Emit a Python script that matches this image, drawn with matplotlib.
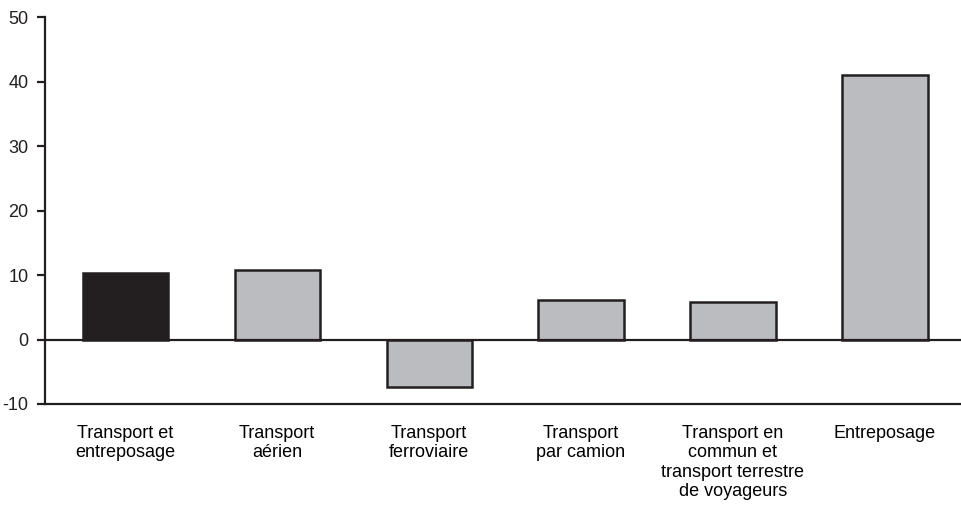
import numpy as np
from matplotlib import pyplot as plt

plt.rcParams["font.family"] = ["Liberation Sans Narrow", "Liberation Sans", "DejaVu Sans"]

categories = ["Transport et\nentreposage", "Transport\naérien", "Transport\nferroviaire",
              "Transport\npar camion", "Transport en\ncommun et\ntransport terrestre\nde voyageurs",
              "Entreposage"]
values = [10.3, 10.8, -7.3, 6.1, 5.8, 41.0]
yticks = [-10, 0, 10, 20, 30, 40, 50]

ink = "#231f20"
grey = "#bbbcc0"
colors = [ink] + [grey] * (len(values) - 1)

fig = plt.figure(figsize=(9.62, 5.13), dpi=100)
ax = fig.add_axes([0.047, 0.2125, 0.953, 0.754])

x = np.arange(len(categories))
ax.bar(x, values, width=0.56, color=colors, edgecolor=ink, linewidth=1.8, zorder=2)
ax.axhline(0, color=ink, linewidth=1.6, zorder=3)

ax.set_xlim(-0.526, 5.507)
ax.set_ylim(-10, 50)
ax.set_yticks(yticks)
ax.set_yticklabels([str(t) for t in yticks], fontsize=13)
ax.set_xticks(x)
ax.set_xticklabels(categories, fontsize=13, linespacing=1.18)
ax.tick_params(axis="x", length=0, pad=15)
ax.tick_params(axis="y", direction="out", length=6, width=1.6, pad=6, colors=ink)

for side in ["top", "right"]:
    ax.spines[side].set_visible(False)
for side in ["left", "bottom"]:
    ax.spines[side].set_linewidth(1.6)
    ax.spines[side].set_color(ink)

fig.savefig("out.png", dpi=100)
